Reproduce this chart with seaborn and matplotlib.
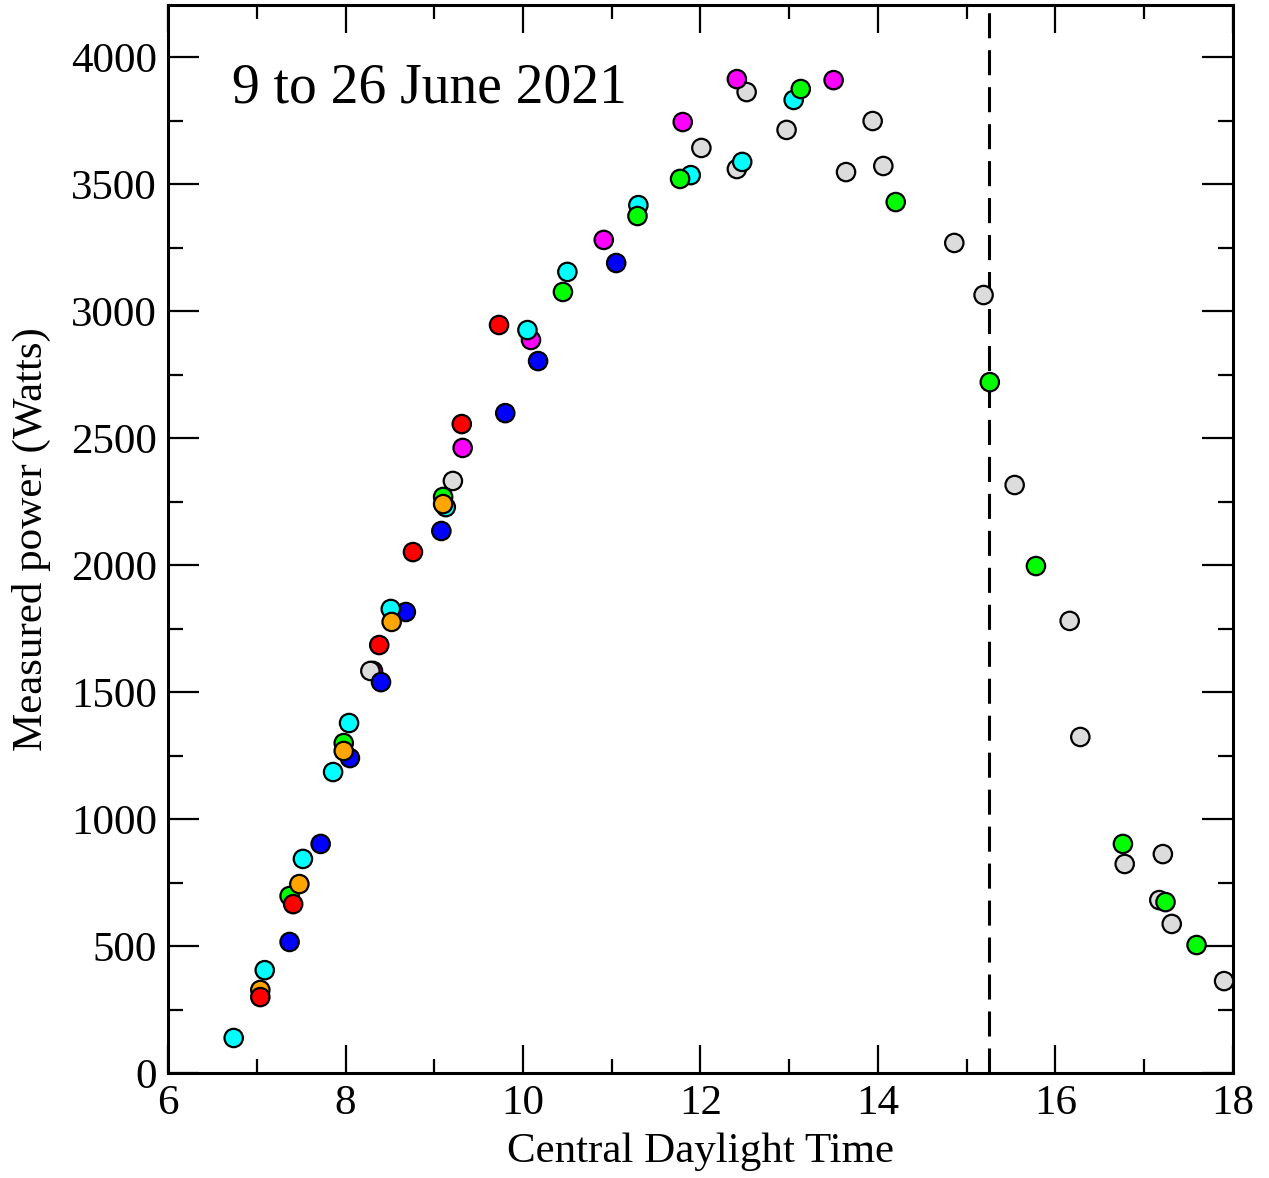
import pandas as pd
import matplotlib
matplotlib.use("Agg")
import matplotlib.pyplot as plt
from matplotlib.ticker import MultipleLocator
import seaborn as sns

grey_t = [8.28, 9.21, 12.01, 12.41, 12.52, 12.97, 13.64, 13.94, 14.06, 14.86,
          15.19, 15.54, 16.16, 16.28, 16.78, 17.21, 17.17, 17.31, 17.90]
grey_p = [1583, 2331, 3642, 3559, 3862, 3713, 3547, 3748, 3571, 3268,
          3063, 2315, 1780, 1323, 823, 862, 681, 587, 362]

magenta_t = [8.31, 9.32, 10.09, 10.91, 11.80, 12.41, 13.50]
magenta_p = [1583, 2461, 2886, 3280, 3744, 3913, 3909]

cyan_t = [6.74, 7.09, 7.52, 7.86, 8.04, 8.51, 9.13, 10.05, 10.50, 11.30,
          11.89, 12.47, 13.05]
cyan_p = [138, 405, 843, 1185, 1378, 1827, 2228, 2925, 3154, 3417,
          3535, 3587, 3831]

blue_t = [7.37, 7.72, 8.05, 8.40, 8.68, 9.08, 9.80, 10.17, 11.05]
blue_p = [516, 902, 1240, 1539, 1815, 2134, 2598, 2803, 3189]

green_t = [7.37, 7.98, 9.10, 10.45, 11.29, 11.77, 13.13, 14.20, 15.26,
           15.78, 16.76, 17.24, 17.59]
green_p = [697, 1299, 2268, 3075, 3374, 3520, 3874, 3429, 2720,
           1996, 902, 673, 504]

orange_t = [7.04, 7.48, 7.98, 8.52, 9.10]
orange_p = [327, 744, 1268, 1776, 2240]

red_t = [7.04, 7.41, 8.38, 8.76, 9.31, 9.73]
red_p = [299, 665, 1685, 2051, 2555, 2945]

colors = {
    'grey': '#dcdcdc', 'magenta': '#ff00ff', 'cyan': '#00ffff',
    'blue': '#0000ff', 'green': '#00ff00', 'orange': '#ffa500', 'red': '#ff0000',
}

cutoff = 15.25


def make_df(t, p, name):
    return pd.DataFrame({'time': t, 'power': p, 'day': name})


# orden de dibujo (los de abajo primero) para respetar los solapes
df = pd.concat([
    make_df(magenta_t[:1], magenta_p[:1], 'magenta'),
    make_df(grey_t, grey_p, 'grey'),
    make_df(blue_t, blue_p, 'blue'),
    make_df(magenta_t[1:], magenta_p[1:], 'magenta'),
    make_df(cyan_t, cyan_p, 'cyan'),
    make_df(green_t, green_p, 'green'),
    make_df(orange_t, orange_p, 'orange'),
    make_df(red_t, red_p, 'red'),
], ignore_index=True)

sns.set_style("ticks")
plt.rcParams['font.family'] = ['Liberation Serif', 'DejaVu Serif']
plt.rcParams['text.color'] = 'black'
plt.rcParams['axes.labelcolor'] = 'black'
plt.rcParams['xtick.color'] = 'black'
plt.rcParams['ytick.color'] = 'black'

fig = plt.figure(figsize=(12.69, 11.78), dpi=100)
ax = fig.add_axes([0.1324, 0.0891, 0.8392, 0.9067])

ax.axvline(cutoff, color='black', lw=2.2, dashes=(8.2, 3.9), zorder=1)

sns.scatterplot(data=df, x='time', y='power', hue='day',
                palette=colors, s=175, edgecolor='black', linewidth=1.6,
                alpha=1, legend=False, ax=ax, zorder=3)

ax.set_xlim(6, 18)
ax.set_ylim(0, 4205)
ax.xaxis.set_major_locator(MultipleLocator(2))
ax.xaxis.set_minor_locator(MultipleLocator(1))
ax.yaxis.set_major_locator(MultipleLocator(500))
ax.yaxis.set_minor_locator(MultipleLocator(250))

ax.tick_params(which='both', direction='in', top=True, right=True,
               width=1.6, labelsize=31, colors='black')
ax.tick_params(axis='y', which='major', length=22, pad=8)
ax.tick_params(axis='y', which='minor', length=11)
ax.tick_params(axis='x', which='major', length=20, pad=8)
ax.tick_params(axis='x', which='minor', length=10)
for sp in ax.spines.values():
    sp.set_linewidth(2.2)
    sp.set_color('black')

ax.set_xlabel("Central Daylight Time", fontsize=31, labelpad=7)
ax.set_ylabel("Measured power (Watts)", fontsize=31, labelpad=14)

ax.text(6.72, 3822, "9 to 26 June 2021", fontsize=40, ha='left', va='baseline')

fig.savefig("out.png", dpi=100)
